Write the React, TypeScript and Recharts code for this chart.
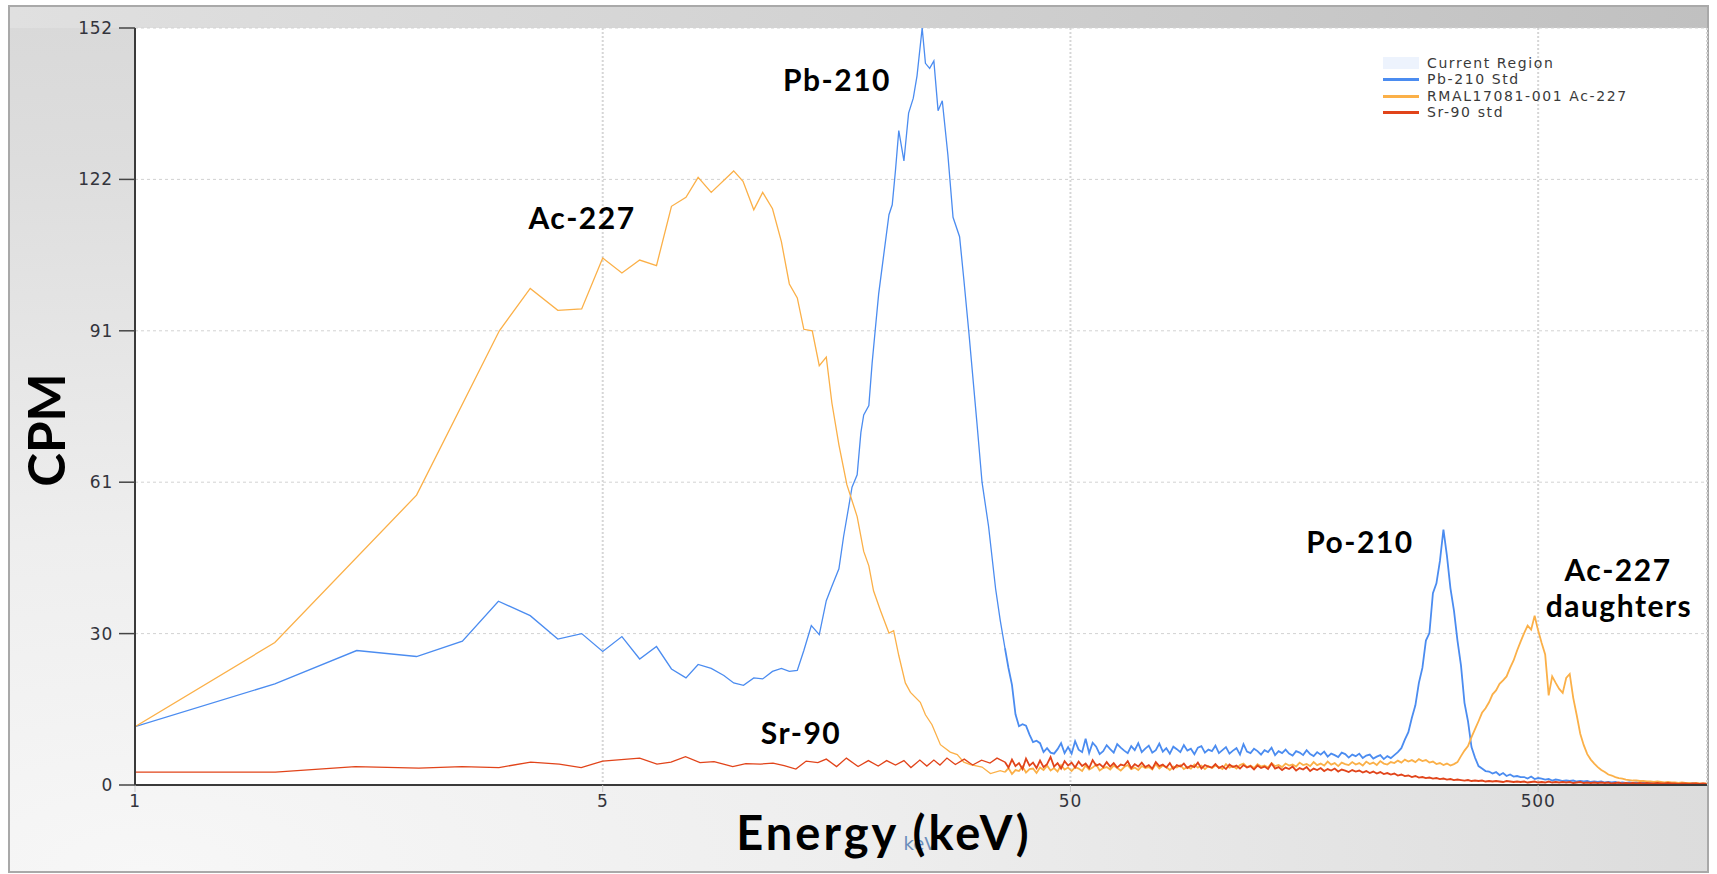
import React from 'react';
import { LineChart, Line, XAxis, YAxis, CartesianGrid } from 'recharts';

// ---- Spectrum data -------------------------------------------------------
// x = position on the log-channel axis (0 → 1 keV, 1 → 5 keV, 2 → 50 keV, 3 → 500 keV)

// Low-energy channels (coarse, irregular spacing)
const pbLowPos = [
  0.0, 0.299, 0.474, 0.602, 0.7, 0.777, 0.845, 0.904, 0.955, 1.0,
  1.041, 1.079, 1.115, 1.147, 1.178, 1.204, 1.232, 1.259, 1.28, 1.301,
  1.323, 1.342, 1.363, 1.382, 1.399, 1.416, 1.43, 1.446, 1.463, 1.478,
  1.49, 1.505, 1.515, 1.526, 1.533, 1.544, 1.552, 1.558, 1.569, 1.576,
  1.583, 1.59, 1.601, 1.612, 1.619, 1.626, 1.633, 1.644, 1.654, 1.664,
  1.672, 1.683, 1.69, 1.699, 1.708, 1.717, 1.726, 1.738, 1.749, 1.763,
  1.772, 1.783, 1.8, 1.811, 1.825, 1.84, 1.85,
];
const pbLowCpm = [
  11.7, 20.3, 27.0, 25.8, 28.9, 36.9, 34.0, 29.3, 30.4, 26.8,
  29.8, 25.3, 27.8, 23.3, 21.5, 24.2, 23.4, 22.0, 20.5, 20.0,
  21.5, 21.3, 22.8, 23.4, 22.8, 23.0, 27.0, 32.0, 30.2, 37.0,
  39.9, 43.4, 49.9, 55.9, 59.8, 62.3, 70.8, 74.3, 76.2, 84.7,
  91.7, 98.6, 106.6, 114.5, 116.5, 123.5, 131.4, 125.3, 134.9, 137.9,
  142.4, 152.0, 144.9, 143.9, 145.4, 135.4, 137.4, 126.5, 114.0, 110.1,
  101.6, 90.7, 72.8, 60.8, 51.9, 39.4, 33.0,
];

const acLowPos = [
  0.0, 0.299, 0.602, 0.779, 0.845, 0.904, 0.955, 1.0, 1.041, 1.079,
  1.115, 1.147, 1.178, 1.204, 1.232, 1.28, 1.3, 1.323, 1.342, 1.363,
  1.382, 1.399, 1.416, 1.43, 1.448, 1.463, 1.478, 1.49, 1.505, 1.522,
  1.544, 1.558, 1.569, 1.579, 1.594, 1.612, 1.622, 1.633, 1.647, 1.658,
  1.679, 1.69, 1.704, 1.722, 1.743, 1.758, 1.772, 1.786, 1.811, 1.829,
  1.85,
];
const acLowCpm = [
  11.7, 28.6, 58.2, 91.2, 99.7, 95.3, 95.6, 105.8, 102.8, 105.4,
  104.3, 116.2, 118.0, 122.0, 119.0, 123.3, 121.2, 115.5, 119.0, 115.7,
  109.1, 100.6, 97.8, 91.5, 91.2, 84.2, 85.9, 76.7, 68.3, 60.3,
  53.9, 46.9, 44.0, 39.0, 35.0, 30.5, 31.0, 26.0, 20.5, 18.6,
  16.6, 14.1, 12.1, 8.1, 6.6, 6.1, 4.6, 4.1, 3.6, 2.3,
  2.9,
];

const srLowPos = [
  0.0, 0.3, 0.471, 0.607, 0.699, 0.778, 0.846, 0.907, 0.954, 1.0,
  1.079, 1.116, 1.146, 1.177, 1.208, 1.238, 1.278, 1.306, 1.337, 1.364,
  1.388, 1.413, 1.435, 1.46, 1.478, 1.5, 1.521, 1.546, 1.568, 1.589,
  1.607, 1.626, 1.644, 1.659, 1.678, 1.693, 1.708, 1.721, 1.736, 1.754,
  1.773, 1.791, 1.81, 1.828, 1.843,
];
const srLowCpm = [
  2.6, 2.6, 3.7, 3.4, 3.7, 3.5, 4.6, 4.2, 3.5, 4.8,
  5.4, 4.2, 4.6, 5.7, 4.5, 4.7, 3.7, 4.3, 4.2, 4.4,
  3.9, 3.2, 4.8, 4.5, 5.2, 3.7, 5.4, 3.7, 4.9, 3.8,
  4.9, 4.0, 4.9, 3.5, 5.0, 3.8, 5.0, 4.0, 5.4, 4.1,
  5.2, 4.0, 5.0, 4.4, 5.4,
];

// High-energy channels (fine, evenly spaced from HIGH_START)
const HIGH_START = 1.86;
const HIGH_STEP = 0.0075;

const pbHighCpm = [
  27.5, 23.5, 20.1, 14.2, 11.8, 12.2, 11.9, 10.1, 8.6, 8.9,
  8.4, 6.6, 7.4, 6.5, 6.3, 7.2, 8.4, 6.4, 7.6, 6.3,
  8.8, 7.1, 6.6, 9.3, 6.4, 8.5, 7.7, 6.2, 6.8, 8.0,
  7.2, 6.5, 8.2, 7.5, 6.9, 6.4, 7.8, 7.0, 8.4, 6.6,
  7.3, 7.9, 6.5, 7.0, 8.3, 6.7, 7.4, 6.3, 7.7, 7.2,
  6.6, 8.0, 6.9, 7.3, 6.2, 7.5, 7.8, 6.5, 7.1, 6.8,
  7.9, 6.4, 7.0, 7.6, 6.3, 6.9, 7.4, 6.1, 8.2, 6.7,
  6.4, 7.3, 6.8, 6.1, 7.0, 6.6, 7.5, 6.0, 6.8, 6.4,
  7.1, 6.3, 5.9, 6.8, 6.5, 6.0, 7.0, 6.2, 5.8, 6.6,
  6.1, 6.7, 5.7, 6.3, 6.0, 5.6, 6.5, 6.2, 5.5, 6.1,
  5.8, 6.3, 5.4, 5.9, 6.1, 5.3, 5.7, 6.0, 5.2, 5.8,
  5.4, 6.0, 6.6, 7.4, 9.1, 10.6, 13.5, 16.0, 20.5, 23.5,
  29.0, 30.5, 38.5, 40.5, 45.0, 51.3, 46.0, 39.5, 35.0, 29.0,
  24.0, 16.5, 12.8, 7.6, 5.5, 3.8, 3.3, 2.8, 2.7, 2.3,
  2.6, 2.0, 2.4, 1.8, 2.1, 1.7, 1.8, 1.6, 1.6, 1.3,
  1.7, 1.2, 1.4, 1.3, 1.1, 1.2, 0.9, 1.1, 1.0, 0.8,
  0.9, 0.8, 0.9, 0.7, 0.8, 0.7, 0.8, 0.6, 0.7, 0.6,
  0.7, 0.5, 0.6, 0.5, 0.6, 0.4, 0.5, 0.4, 0.5, 0.4,
  0.5, 0.3, 0.4, 0.3, 0.4, 0.3, 0.4, 0.2, 0.3, 0.3,
  0.2, 0.3, 0.2, 0.3, 0.2, 0.2, 0.3, 0.2, 0.2, 0.2, 0.2,
];

const acHighCpm = [
  2.6, 3.4, 2.2, 3.0, 2.8, 3.7, 2.5, 3.2, 3.3, 2.4,
  3.5, 3.0, 3.9, 2.9, 3.4, 2.7, 4.0, 3.1, 3.5, 2.8,
  3.6, 3.3, 2.8, 3.9, 3.1, 3.5, 4.1, 2.9, 3.4, 3.6,
  3.1, 3.9, 3.4, 2.9, 3.6, 4.0, 3.2, 3.5, 3.0, 3.8,
  3.4, 3.6, 3.1, 4.2, 3.3, 3.9, 3.6, 3.0, 3.7, 3.5,
  4.0, 3.2, 3.6, 3.3, 4.1, 3.5, 3.9, 3.2, 3.8, 3.4,
  3.9, 3.6, 3.2, 4.2, 3.5, 3.8, 3.3, 4.0, 4.3, 3.6,
  3.9, 3.4, 4.2, 3.7, 3.9, 3.5, 4.4, 3.8, 4.0, 3.6,
  4.3, 3.9, 4.1, 3.7, 4.5, 4.0, 4.2, 3.8, 4.6, 4.0,
  4.3, 3.9, 4.7, 4.1, 4.4, 3.8, 4.5, 4.2, 4.0, 4.6,
  4.1, 4.4, 3.9, 4.7, 4.2, 4.5, 4.0, 4.8, 4.3, 4.1,
  4.6, 4.4, 4.9, 4.5, 5.1, 4.7, 5.0, 4.6, 5.2, 4.8,
  5.0, 4.5, 4.7, 4.2, 4.4, 4.0, 4.3, 3.9, 4.2, 4.6,
  5.8, 6.9, 7.8, 9.6, 11.2, 12.8, 14.5, 15.4, 16.6, 18.2,
  19.0, 20.3, 21.0, 21.8, 23.5, 25.0, 27.0, 28.8, 30.5, 32.0,
  31.2, 34.0, 31.0, 28.5, 26.2, 18.0, 21.8, 20.5, 19.3, 18.5,
  21.5, 22.3, 17.5, 14.0, 10.3, 8.0, 6.2, 5.1, 4.3, 3.6,
  3.0, 2.6, 2.1, 1.9, 1.6, 1.4, 1.3, 1.1, 1.0, 0.9,
  0.9, 0.8, 0.8, 0.7, 0.7, 0.6, 0.7, 0.6, 0.5, 0.6,
  0.5, 0.5, 0.4, 0.5, 0.4, 0.4, 0.3, 0.4, 0.3, 0.3, 0.3,
];

const srHighCpm = [
  4.6, 3.5, 5.1, 3.8, 4.4, 3.2, 5.3, 3.9, 4.5, 3.4,
  4.9, 3.6, 4.2, 5.6, 3.7, 4.4, 3.3, 4.8, 3.9, 4.5,
  3.5, 4.7, 3.8, 4.3, 3.4, 5.0, 3.9, 4.2, 3.6, 4.6,
  3.7, 4.4, 3.5, 4.1, 3.9, 4.8, 3.4, 4.2, 3.7, 4.5,
  3.6, 4.0, 3.3, 4.6, 3.8, 4.1, 3.5, 4.4, 3.2, 4.0,
  3.7, 4.3, 3.4, 3.9, 3.6, 4.5, 3.3, 4.0, 3.7, 3.5,
  4.2, 3.4, 3.8, 3.2, 4.1, 3.6, 3.9, 3.3, 4.0, 3.5,
  3.8, 3.1, 3.9, 3.4, 3.7, 3.2, 4.3, 3.3, 3.6, 3.0,
  3.5, 3.2, 3.7, 2.9, 3.4, 3.1, 3.6, 2.8, 3.3, 3.0,
  3.4, 2.8, 3.2, 2.9, 3.3, 2.7, 3.1, 2.9, 2.6, 3.0,
  2.7, 2.9, 2.5, 2.8, 2.4, 2.7, 2.3, 2.6, 2.2, 2.4,
  2.1, 2.3, 1.9, 2.1, 1.8, 1.9, 1.6, 1.8, 1.5, 1.6,
  1.4, 1.5, 1.3, 1.4, 1.2, 1.3, 1.1, 1.2, 1.0, 1.1,
  1.0, 0.9, 1.0, 0.8, 0.9, 0.8, 0.9, 0.7, 0.8, 0.7,
  0.8, 0.7, 0.6, 0.8, 0.7, 0.6, 0.7, 0.6, 0.7, 0.5,
  0.6, 0.7, 0.5, 0.6, 0.5, 0.7, 0.5, 0.6, 0.5, 0.6,
  0.5, 0.6, 0.4, 0.5, 0.6, 0.4, 0.5, 0.4, 0.5, 0.4,
  0.5, 0.4, 0.5, 0.3, 0.4, 0.5, 0.3, 0.4, 0.3, 0.4,
  0.3, 0.4, 0.3, 0.4, 0.3, 0.3, 0.4, 0.3, 0.3, 0.4,
  0.3, 0.3, 0.2, 0.3, 0.3, 0.2, 0.3, 0.3, 0.2, 0.3, 0.2,
];

// Axis ticks
const xTickPos = [0, 1, 2, 3];
const xTickLabels = ['1', '5', '50', '500'];
const yTickPos = [0, 30.4, 60.8, 91.2, 121.6, 152];
const yTickLabels = ['0', '30', '61', '91', '122', '152'];

// Series meta
const seriesNames = ['Pb-210 Std', 'RMAL17081-001 Ac-227', 'Sr-90 std'];
const seriesColors = ['#4b8cf0', '#fbb048', '#e1441a'];

// Peak annotations
const peakLabels = [
  { text: 'Pb-210', x: 837, y: 79 },
  { text: 'Ac-227', x: 582, y: 217 },
  { text: 'Sr-90', x: 801, y: 732 },
  { text: 'Po-210', x: 1360, y: 541 },
  { text: 'Ac-227', x: 1618, y: 569 },
  { text: 'daughters', x: 1619, y: 605 },
];

type Pt = { pos: number; cpm: number };

const highPos = (i: number) => +(HIGH_START + i * HIGH_STEP).toFixed(4);

// coarse part, joined to the first fine channel so the trace is continuous
function buildLow(lowPos: number[], lowCpm: number[], highCpm: number[]): Pt[] {
  const low = lowPos.map((p, i) => ({ pos: p, cpm: lowCpm[i] }));
  return [...low, { pos: highPos(0), cpm: highCpm[0] }];
}
function buildHigh(highCpm: number[]): Pt[] {
  return highCpm.map((c, i) => ({ pos: highPos(i), cpm: c }));
}

const lowSeries = [
  buildLow(pbLowPos, pbLowCpm, pbHighCpm),
  buildLow(acLowPos, acLowCpm, acHighCpm),
  buildLow(srLowPos, srLowCpm, srHighCpm),
];
const highSeries = [buildHigh(pbHighCpm), buildHigh(acHighCpm), buildHigh(srHighCpm)];

const W = 1717;
const H = 874;
const PLOT_LEFT = 135;
const PLOT_RIGHT = 1707;
const PLOT_TOP = 28;
const PLOT_BOTTOM = 785;
const Y_AXIS_W = 60;
const X_AXIS_H = 30;
const X_MAX = 3.361;

const tickFont = { fontFamily: 'DejaVu Sans, sans-serif', fontSize: 17, fill: '#33343c', letterSpacing: 0.8 };

const XTick = (props: any) => {
  const { x, y, payload } = props;
  const idx = xTickPos.indexOf(payload.value);
  return (
    <text x={x} y={y} dy={13} textAnchor="middle" {...tickFont}>
      {xTickLabels[idx]}
    </text>
  );
};

const YTick = (props: any) => {
  const { x, y, payload } = props;
  const idx = yTickPos.indexOf(payload.value);
  return (
    <text x={x} y={y} dy={6} textAnchor="end" {...tickFont}>
      {yTickLabels[idx]}
    </text>
  );
};

export default function App() {
  return (
    <div
      style={{
        position: 'absolute',
        left: 0,
        top: 0,
        width: W,
        height: H,
        background: '#ffffff',
        overflow: 'hidden',
      }}
    >
      {/* outer panel */}
      <div
        style={{
          position: 'absolute',
          left: 8,
          top: 5,
          width: 1701,
          height: 868,
          boxSizing: 'border-box',
          border: '2px solid #a9a9a9',
          background:
            'radial-gradient(ellipse 120% 110% at 8% 100%, #f7f7f7 0%, #eeeeee 35%, #dddddd 75%, #d6d6d6 100%)',
        }}
      />
      {/* header band */}
      <div
        style={{
          position: 'absolute',
          left: 10,
          top: 7,
          width: 1697,
          height: 21,
          background: 'linear-gradient(to right, #e0e0e0 0%, #d2d2d2 50%, #c0c0c0 100%)',
        }}
      />

      <div style={{ position: 'absolute', left: 0, top: 0 }}>
        <LineChart
          width={W}
          height={H}
          margin={{
            top: PLOT_TOP,
            right: W - PLOT_RIGHT,
            bottom: H - PLOT_BOTTOM - X_AXIS_H,
            left: PLOT_LEFT - Y_AXIS_W,
          }}
        >
          <CartesianGrid vertical={false} fill="#ffffff" stroke="#d2d2d2" strokeDasharray="3 3" />
          <CartesianGrid horizontal={false} stroke="#d6d6d6" strokeWidth={2} strokeDasharray="2 2" />
          <XAxis
            type="number"
            dataKey="pos"
            domain={[0, X_MAX]}
            ticks={xTickPos}
            allowDataOverflow
            height={X_AXIS_H}
            tick={<XTick />}
            tickSize={7}
            tickLine={{ stroke: '#c8c8c8' }}
            axisLine={{ stroke: '#3a3a3a', strokeWidth: 2 }}
          />
          <YAxis
            type="number"
            domain={[0, 152]}
            ticks={yTickPos}
            allowDataOverflow
            width={Y_AXIS_W}
            tick={<YTick />}
            tickSize={16}
            tickMargin={6}
            tickLine={{ stroke: '#444444', strokeWidth: 1.5 }}
            axisLine={{ stroke: '#3a3a3a', strokeWidth: 2 }}
          />
          {lowSeries.map((d, i) => (
            <Line
              key={'low-' + seriesNames[i]}
              data={d}
              dataKey="cpm"
              name={seriesNames[i]}
              type="linear"
              stroke={seriesColors[i]}
              strokeWidth={1.3}
              dot={false}
              activeDot={false}
              isAnimationActive={false}
            />
          ))}
          {highSeries.map((d, i) => (
            <Line
              key={'high-' + seriesNames[i]}
              data={d}
              dataKey="cpm"
              name={seriesNames[i]}
              type="linear"
              stroke={seriesColors[i]}
              strokeWidth={1.8}
              dot={false}
              activeDot={false}
              isAnimationActive={false}
            />
          ))}
        </LineChart>
      </div>

      {/* legend */}
      <div
        style={{
          position: 'absolute',
          left: 1383,
          top: 55,
          fontFamily: 'DejaVu Sans, sans-serif',
          fontSize: 14,
          color: '#3a3a3a',
          letterSpacing: 1.6,
          lineHeight: '16.4px',
        }}
      >
        <div style={{ display: 'flex', alignItems: 'center' }}>
          <span style={{ display: 'inline-block', width: 36, height: 12, background: '#edf3fd', marginRight: 8 }} />
          Current Region
        </div>
        {seriesNames.map((n, i) => (
          <div key={n} style={{ display: 'flex', alignItems: 'center' }}>
            <span
              style={{ display: 'inline-block', width: 36, height: 3, background: seriesColors[i], marginRight: 8 }}
            />
            {n}
          </div>
        ))}
      </div>

      {/* peak annotations */}
      {peakLabels.map((l, i) => (
        <div
          key={i}
          style={{
            position: 'absolute',
            left: l.x,
            top: l.y,
            transform: 'translate(-50%, -50%)',
            fontFamily: 'Lato, sans-serif',
            fontWeight: 700,
            fontSize: 30,
            letterSpacing: 1.5,
            color: '#000',
            whiteSpace: 'nowrap',
            lineHeight: 1,
          }}
        >
          {l.text}
        </div>
      ))}

      {/* small axis caption */}
      <div
        style={{
          position: 'absolute',
          left: 920,
          top: 843,
          transform: 'translate(-50%, -50%)',
          fontFamily: 'DejaVu Sans, sans-serif',
          fontSize: 18,
          color: '#6a8cba',
          whiteSpace: 'nowrap',
        }}
      >
        keV
      </div>

      {/* axis titles */}
      <div
        style={{
          position: 'absolute',
          left: 884,
          top: 832,
          transform: 'translate(-50%, -50%)',
          fontFamily: 'Lato, sans-serif',
          fontWeight: 700,
          fontSize: 47,
          letterSpacing: 3,
          color: '#000',
          whiteSpace: 'nowrap',
          lineHeight: 1,
        }}
      >
        Energy (keV)
      </div>
      <div
        style={{
          position: 'absolute',
          left: 45,
          top: 430,
          transform: 'translate(-50%, -50%) rotate(-90deg)',
          fontFamily: 'Lato, sans-serif',
          fontWeight: 700,
          fontSize: 51,
          color: '#000',
          whiteSpace: 'nowrap',
          lineHeight: 1,
        }}
      >
        CPM
      </div>
    </div>
  );
}
